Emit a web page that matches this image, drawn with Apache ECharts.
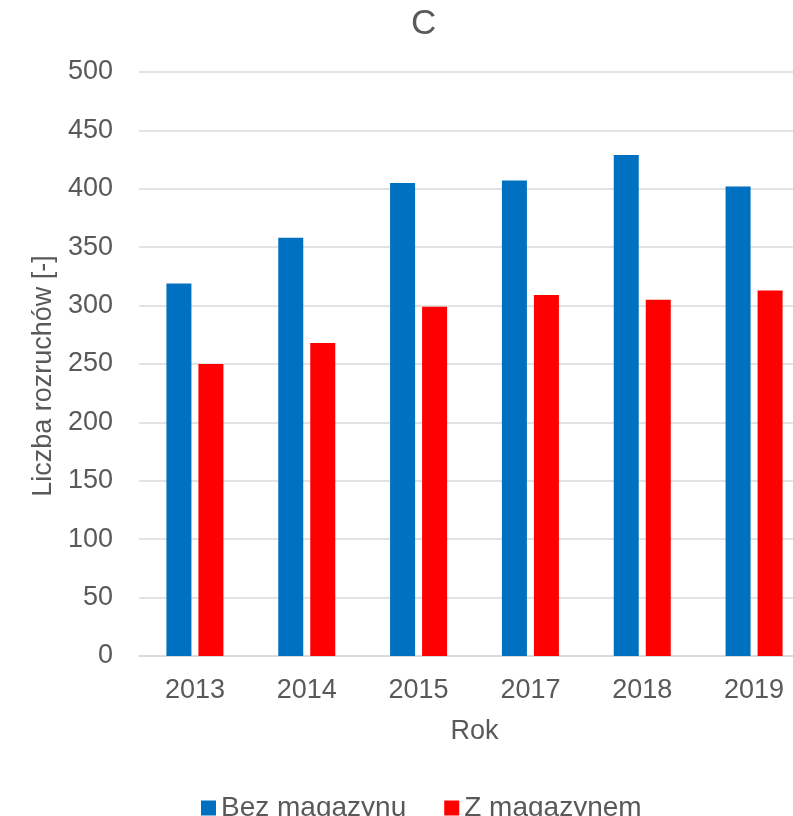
<!DOCTYPE html>
<html>
<head>
<meta charset="utf-8">
<script src="https://cdn.jsdelivr.net/npm/echarts@6/dist/echarts.min.js"></script>
<style>
  html, body { margin: 0; padding: 0; background: #ffffff; }
  #chart { width: 793px; height: 816px; }
</style>
</head>
<body>
<div id="chart"></div>
<script>
// Number of starts per year, with and without storage
const years = ['2013', '2014', '2015', '2017', '2018', '2019'];
const bezMagazynu = [319, 358, 405, 407, 429, 402];
const zMagazynem = [250, 268, 299, 309, 305, 313];
const yTicks = { min: 0, max: 500, step: 50 };

const textColor = '#595959';
const font = 'Liberation Sans, Arial, sans-serif';

const chart = echarts.init(document.getElementById('chart'), null, { renderer: 'canvas' });
chart.setOption({
  backgroundColor: '#ffffff',
  animation: false,
  textStyle: { fontFamily: font, color: textColor },
  title: {
    text: 'C',
    left: 406,
    top: 2,
    textStyle: { fontFamily: font, fontSize: 35, fontWeight: 'normal', color: textColor }
  },
  legend: {
    left: 196,
    top: 789,
    itemWidth: 15,
    itemHeight: 15,
    itemGap: 38,
    icon: 'rect',
    textStyle: { fontFamily: font, fontSize: 28, color: textColor },
    data: ['Bez magazynu', 'Z magazynem']
  },
  // the plot area runs a little past the right edge of the canvas
  grid: { left: 139, top: 72, width: 671, height: 584, containLabel: false, outerBoundsMode: 'none' },
  xAxis: {
    type: 'category',
    data: years,
    name: 'Rok',
    nameLocation: 'middle',
    nameGap: 62,
    nameTextStyle: { fontFamily: font, fontSize: 27, color: textColor },
    axisLine: { lineStyle: { color: '#d9d9d9', width: 1.5 } },
    axisTick: { show: false },
    axisLabel: { fontFamily: font, fontSize: 27, color: textColor, margin: 21 }
  },
  yAxis: {
    type: 'value',
    min: yTicks.min,
    max: yTicks.max,
    interval: yTicks.step,
    name: 'Liczba rozruchów [-]',
    nameLocation: 'middle',
    nameRotate: 90,
    nameGap: 77,
    nameTextStyle: { fontFamily: font, fontSize: 27, color: textColor, padding: [0, 24, 0, 0] },
    axisLine: { show: false },
    axisTick: { show: false },
    axisLabel: { fontFamily: font, fontSize: 27, color: textColor, margin: 26 },
    splitLine: { lineStyle: { color: '#d9d9d9', width: 1.5 } }
  },
  series: [
    {
      name: 'Bez magazynu',
      type: 'bar',
      data: bezMagazynu,
      barWidth: 25,
      barGap: '28%',
      itemStyle: { color: '#0070C0' }
    },
    {
      name: 'Z magazynem',
      type: 'bar',
      data: zMagazynem,
      barWidth: 25,
      barGap: '28%',
      itemStyle: { color: '#FF0000' }
    }
  ]
});
</script>
</body>
</html>
